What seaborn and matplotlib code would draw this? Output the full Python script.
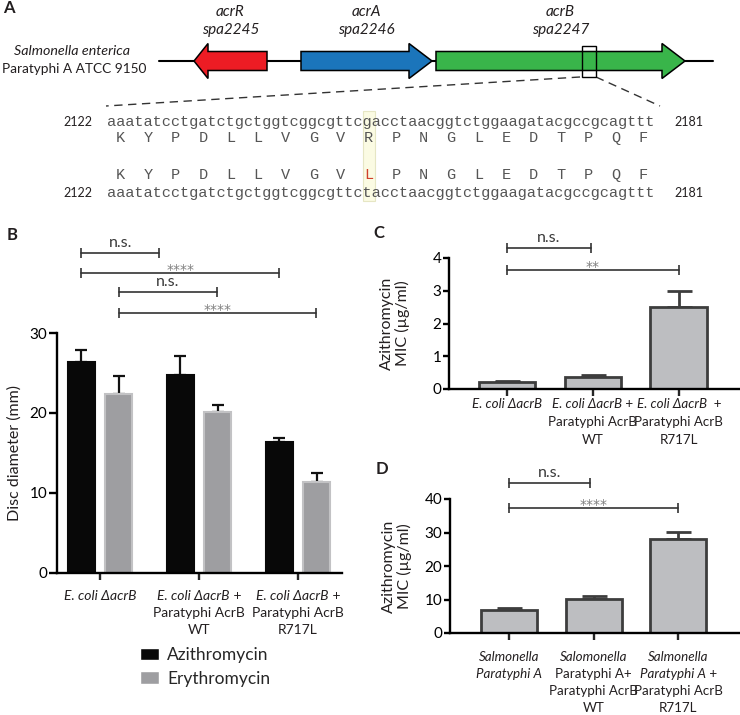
import numpy as np
import pandas as pd
import seaborn as sns
import matplotlib.pyplot as plt
from matplotlib.patches import Polygon, Rectangle
from matplotlib import transforms

# =============================================================================
# === DATA ===
# =============================================================================
# panel A: gene map (x extents in diagram pixels) and sequence
genes = ["acrR", "acrA", "acrB"]
gene_ids = ["spa2245", "spa2246", "spa2247"]
gene_colors = ["#ed1c24", "#1b75bb", "#39b54a"]
gene_tail = [267, 301, 436]
gene_tip = [194, 432, 685]
seq_wt = "aaatatcctgatctgctggtcggcgttcgacctaacggtctggaagatacgccgcagttt"
seq_mut = "aaatatcctgatctgctggtcggcgttctacctaacggtctggaagatacgccgcagttt"
aa_wt = ["K", "Y", "P", "D", "L", "L", "V", "G", "V", "R",
         "P", "N", "G", "L", "E", "D", "T", "P", "Q", "F"]
aa_mut = ["K", "Y", "P", "D", "L", "L", "V", "G", "V", "L",
          "P", "N", "G", "L", "E", "D", "T", "P", "Q", "F"]
mut_codon = 9
seq_first, seq_last = 2122, 2181

# panel B: disc diffusion
strains_b = ["E. coli ΔacrB", "E. coli ΔacrB + AcrB WT", "E. coli ΔacrB + AcrB R717L"]
drugs = ["Azithromycin", "Erythromycin"]
azithro_mm = [26.4, 24.8, 16.4]
azithro_err = [1.5, 2.3, 0.5]
erythro_mm = [22.4, 20.1, 11.4]
erythro_err = [2.2, 0.9, 1.1]
sig_b = [(-0.19, 0.60, 40.0, "n.s."), (-0.19, 1.81, 37.5, "****"),
         (0.19, 1.18, 35.1, "n.s."), (0.19, 2.18, 32.5, "****")]

# panel C: MIC in E. coli
strains_c = ["E. coli ΔacrB", "+ AcrB WT", "+ AcrB R717L"]
mic_c = [0.22, 0.38, 2.5]
mic_c_err = [0.03, 0.06, 0.5]
sig_c = [(0, 0.98, 4.3, "n.s."), (0, 2.0, 3.63, "**")]

# panel D: MIC in Salmonella Paratyphi A
strains_d = ["Paratyphi A", "+ AcrB WT", "+ AcrB R717L"]
mic_d = [7.0, 10.1, 28.1]
mic_d_err = [0.5, 0.9, 2.1]
sig_d = [(0, 0.96, 44.8, "n.s."), (0, 2.0, 37.3, "****")]

# tick label lines: (italic part, regular suffix)
labels_b = [[("E. coli ΔacrB", "")],
            [("E. coli ΔacrB", " +"), ("", "Paratyphi AcrB"), ("", "WT")],
            [("E. coli ΔacrB", " +"), ("", "Paratyphi AcrB"), ("", "R717L")]]
labels_c = [[("E. coli ΔacrB", "")],
            [("E. coli ΔacrB", " +"), ("", "Paratyphi AcrB"), ("", "WT")],
            [("E. coli ΔacrB", "  +"), ("", "Paratyphi AcrB"), ("", "R717L")]]
labels_d = [[("Salmonella", ""), ("Paratyphi A", "")],
            [("Salomonella", ""), ("", "Paratyphi A+"), ("", "Paratyphi AcrB"), ("", "WT")],
            [("Salmonella", ""), ("Paratyphi A", " +"), ("", "Paratyphi AcrB"), ("", "R717L")]]

# =============================================================================
# === STYLE ===
# =============================================================================
sns.set_style("ticks")
plt.rcParams["font.family"] = ["Lato", "DejaVu Sans"]
TXT = "#231f20"

W, H = 740, 715
fig = plt.figure(figsize=(7.4, 7.15), dpi=100)


def fx(px):
    return px / W


def fy(py):
    return 1 - py / H


# =============================================================================
# === PANEL A ===
# =============================================================================
axa = fig.add_axes([0, 0, 1, 1])
axa.set_xlim(0, W)
axa.set_ylim(H, 0)
axa.axis("off")

axa.text(3, 8, "A", fontsize=12, fontweight="bold", va="center", color=TXT)
axa.text(72, 51, "Salmonella enterica", style="italic", fontsize=10.3, ha="center", va="center", color=TXT)
axa.text(2, 69, "Paratyphi A ATCC 9150", fontsize=9.8, ha="left", va="center", color=TXT)
axa.plot([159, 713], [61, 61], color="black", lw=1.5, zorder=1)

yc = 61
for name, gid, col, tail, tip in zip(genes, gene_ids, gene_colors, gene_tail, gene_tip):
    d = np.sign(tip - tail)
    hl = 14 if d < 0 else 23
    base = tip - d * hl
    pts = [(tail, yc - 9.5), (base, yc - 9.5), (base, yc - 17.5), (tip, yc),
           (base, yc + 17.5), (base, yc + 9.5), (tail, yc + 9.5)]
    axa.add_patch(Polygon(pts, closed=True, facecolor=col, edgecolor="black", lw=1.1, zorder=2))
    xm = (tail + tip) / 2
    axa.text(xm, 12, name, style="italic", fontsize=11, ha="center", va="center", color=TXT)
    axa.text(xm, 30, gid, style="italic", fontsize=11, ha="center", va="center", color=TXT)

axa.add_patch(Rectangle((582, 46), 14, 31, fill=False, edgecolor="black", lw=1, zorder=3))
axa.plot([580, 106], [77, 106], ls=(0, (6, 4)), color="#333333", lw=1)
axa.plot([596, 660], [77, 106], ls=(0, (6, 4)), color="#333333", lw=1)

# sequence block
x0, cw = 107, 9.17
mut_pos = [i for i, (a, b) in enumerate(zip(seq_wt, seq_mut)) if a != b][0]
axa.add_patch(Rectangle((x0 + mut_pos * cw - 1, 111), cw + 3, 90,
                        facecolor="#fbfbe3", edgecolor="#e6e6c4", lw=0.8, zorder=0))
mono = "Liberation Mono"
for seq, ys in [(seq_wt, 122), (seq_mut, 193)]:
    axa.text(x0, ys, seq, family=mono, fontsize=11, color="#555555", ha="left", va="center")
    axa.text(92, ys, str(seq_first), fontsize=9, color=TXT, ha="right", va="center")
    axa.text(674, ys, str(seq_last), fontsize=9, color=TXT, ha="left", va="center")
for aas, ya in [(aa_wt, 138), (aa_mut, 175)]:
    for i, aa in enumerate(aas):
        col = "#d0402a" if (aas is aa_mut and i == mut_codon) else "#555555"
        axa.text(x0 + (3 * i + 1.5) * cw, ya, aa, family=mono, fontsize=11,
                 color=col, ha="center", va="center")


# =============================================================================
# === helpers ===
# =============================================================================
def draw_labels(ax, labels, ys_px, fs):
    trans = transforms.blended_transform_factory(ax.transData, fig.transFigure)
    r = fig.canvas.get_renderer()
    for i, lines in enumerate(labels):
        for (it, rg), yp in zip(lines, ys_px):
            if it and rg:
                t = ax.text(i, fy(yp), it, style="italic", fontsize=fs, ha="center",
                            va="center", transform=trans, color=TXT)
                s = ax.annotate(rg, xy=(1, 0.5), xycoords=t, fontsize=fs,
                                ha="left", va="center", color=TXT)
                w = s.get_window_extent(r).width
                t.set_transform(transforms.offset_copy(trans, fig=fig, x=-w / 2, units="dots"))
            elif it:
                ax.text(i, fy(yp), it, style="italic", fontsize=fs, ha="center",
                        va="center", transform=trans, color=TXT)
            else:
                ax.text(i, fy(yp), rg, fontsize=fs, ha="center",
                        va="center", transform=trans, color=TXT)


def draw_sig(ax, sigs, lab_off=7.5, star_off=2.0):
    for a, b, y, lab in sigs:
        ax.plot([a, b], [y, y], color="#333333", lw=1.2, marker="|", ms=7,
                mew=1.2, clip_on=False)
        if lab == "n.s.":
            ax.annotate(lab, xy=((a + b) / 2, y), xytext=(0, lab_off), textcoords="offset points",
                        ha="center", va="center", fontsize=11.5, color="#3a3a3a",
                        annotation_clip=False)
        else:
            ax.annotate(lab, xy=((a + b) / 2, y), xytext=(0, star_off), textcoords="offset points",
                        ha="center", va="center", fontsize=10, color="#808080",
                        family="DejaVu Sans", annotation_clip=False)


def style_axis(ax, ylim, yticks, xlim):
    ax.set_ylim(*ylim)
    ax.set_yticks(yticks)
    ax.set_xlim(*xlim)
    ax.set_xticks([0, 1, 2])
    ax.set_xticklabels(["", "", ""])
    ax.set_xlabel("")
    sns.despine(ax=ax)
    for sp in ["left", "bottom"]:
        ax.spines[sp].set_linewidth(1.7)
        ax.spines[sp].set_color("black")


# =============================================================================
# === PANEL B ===
# =============================================================================
axb = fig.add_axes([fx(57), fy(573), fx(342) - fx(57), fy(333) - fy(573)])
df_b = pd.DataFrame({
    "strain": strains_b * 2,
    "drug": [drugs[0]] * 3 + [drugs[1]] * 3,
    "diameter": azithro_mm + erythro_mm,
})
sns.barplot(data=df_b, x="strain", y="diameter", hue="drug", palette=["#080808", "#9d9ea2"],
            width=0.75, gap=0.28, errorbar=None, ax=axb, zorder=2)
for c, errs, ec in zip(axb.containers, [azithro_err, erythro_err], ["#080808", "#c2c2c4"]):
    xs = [p.get_x() + p.get_width() / 2 for p in c]
    ys = [p.get_height() for p in c]
    for p in c:
        p.set_edgecolor(ec)
        p.set_linewidth(1.5)
    axb.errorbar(xs, ys, yerr=[np.zeros(3), errs], fmt="none", ecolor="#111111",
                 elinewidth=1.6, capsize=4, capthick=1.6, zorder=1)
style_axis(axb, (0, 30), [0, 10, 20, 30], (-0.434, 2.444))
axb.tick_params(axis="y", length=6, width=1.7, pad=1, labelsize=11, colors="black")
axb.tick_params(axis="x", length=5, width=1.7)
axb.set_ylabel("Disc diameter (mm)", fontsize=11.5, color=TXT)
axb.yaxis.set_label_coords(-0.123, 0.5)
leg = axb.legend(loc="upper left", bbox_to_anchor=(fx(140), fy(647)), bbox_transform=fig.transFigure,
                 frameon=False, fontsize=12.5, handlelength=1.1, handleheight=0.75,
                 handletextpad=0.45, labelspacing=0.45, borderaxespad=0, borderpad=0)
draw_labels(axb, labels_b, [596, 613, 630], 10)
draw_sig(axb, sig_b)
fig.text(fx(7), fy(235), "B", fontsize=12, fontweight="bold", va="center", color=TXT)

# =============================================================================
# === PANEL C ===
# =============================================================================
axc = fig.add_axes([fx(449), fy(389), fx(739) - fx(449), fy(258) - fy(389)])
sns.barplot(x=strains_c, y=mic_c, color="#bdbec1", edgecolor="#3d3d3d", linewidth=2,
            width=0.66, saturation=1, ax=axc, zorder=2)
axc.errorbar(range(3), mic_c, yerr=[np.zeros(3), mic_c_err], fmt="none", ecolor="#3d3d3d",
             elinewidth=2, capsize=9, capthick=2, zorder=1)
style_axis(axc, (0, 4), [0, 1, 2, 3, 4], (-0.674, 2.70))
axc.tick_params(axis="y", length=4, width=1.7, pad=1.5, labelsize=11, colors="black")
axc.tick_params(axis="x", length=5, width=1.7)
axc.set_ylabel("Azithromycin\nMIC (µg/ml)", fontsize=11.5, color=TXT, linespacing=1.1)
axc.yaxis.set_label_coords(-0.135, 0.5)
draw_labels(axc, labels_c, [404, 422, 440], 9.6)
draw_sig(axc, sig_c)
fig.text(fx(373), fy(233), "C", fontsize=12, fontweight="bold", va="center", color=TXT)

# =============================================================================
# === PANEL D ===
# =============================================================================
axd = fig.add_axes([fx(450), fy(633), fx(739) - fx(450), fy(499) - fy(633)])
sns.barplot(x=strains_d, y=mic_d, color="#bdbec1", edgecolor="#3d3d3d", linewidth=2,
            width=0.66, saturation=1, ax=axd, zorder=2)
axd.errorbar(range(3), mic_d, yerr=[np.zeros(3), mic_d_err], fmt="none", ecolor="#3d3d3d",
             elinewidth=2, capsize=9, capthick=2, zorder=1)
style_axis(axd, (0, 40), [0, 10, 20, 30, 40], (-0.70, 2.72))
axd.tick_params(axis="y", length=4, width=1.7, pad=1.5, labelsize=11, colors="black")
axd.tick_params(axis="x", length=5, width=1.7)
axd.set_ylabel("Azithromycin\nMIC (µg/ml)", fontsize=11.5, color=TXT, linespacing=1.1)
axd.yaxis.set_label_coords(-0.131, 0.5)
draw_labels(axd, labels_d, [657, 674, 691, 708], 9.6)
draw_sig(axd, sig_d)
fig.text(fx(376), fy(469), "D", fontsize=12, fontweight="bold", va="center", color=TXT)

fig.savefig("out.png", dpi=100)
